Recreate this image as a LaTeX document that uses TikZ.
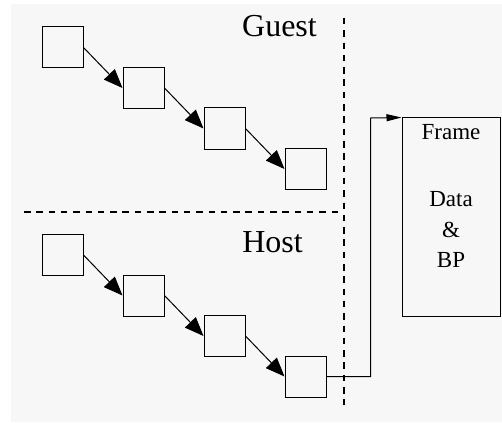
\documentclass[tikz,border=0pt]{standalone}
\usepackage{fontspec}
\setmainfont{Liberation Serif}
\usetikzlibrary{positioning}
\usetikzlibrary{arrows.meta}
\definecolor{paper}{HTML}{F7F7F7}

\begin{document}
\begin{tikzpicture}[x=1pt,y=-1pt,node distance=40.5pt and 81pt,on grid,
    block/.style={draw,line width=1pt,minimum size=41pt,inner sep=0pt},
    link/.style={line width=1pt,-{Triangle[length=19pt,width=15pt]}},
    split/.style={line width=1.6pt,dash pattern=on 6.5pt off 5.8pt}]

  \useasboundingbox (0,0) rectangle (502,422);
  \fill[paper] (11,4) rectangle (502,422);

  \node[block]          (g1) at (62.5,47.5)        {};
  \node[block]          (g2) [below right=of g1]   {};
  \node[block]          (g3) [below right=of g2]   {};
  \node[block]          (g4) [below right=of g3]   {};

  \node[block]          (h1) [below=207.5pt of g1] {};
  \node[block]          (h2) [below right=of h1]   {};
  \node[block]          (h3) [below right=of h2]   {};
  \node[block]          (h4) [below right=of h3]   {};

  \node[anchor=base,font=\fontsize{32}{38}\selectfont] (guest) at (279.5,37)  {Guest};
  \node[anchor=base,font=\fontsize{32}{38}\selectfont] (host)  at (272.5,252) {Host};

  \node[draw,line width=1pt,minimum width=98pt,minimum height=198pt] (frame) at (451,217) {};
  \node[anchor=north,align=center,inner sep=0pt,font=\fontsize{23}{30.5}\selectfont]
        (frametext) at ([yshift=-7pt]frame.north) {Frame\\[36.5pt]Data\\\&\\BP};

  \coordinate (sepw) at (24,212);
  \coordinate (sepe) at (343.7,212);
  \coordinate (sepn) at (343.7,18);
  \coordinate (seps) at (343.7,405);
  \coordinate (bend) at (370.7,118);

  \draw[split] (sepw) -- (sepe);
  \draw[split] (sepn) -- (seps);

  \path[link] (g1.east) edge (g2.west)
              (g2.east) edge (g3.west)
              (g3.east) edge (g4.west)
              (h1.east) edge (h2.west)
              (h2.east) edge (h3.west)
              (h3.east) edge (h4.west);

  \draw[line width=1pt,-{Triangle[length=15pt,width=7pt]}] (h4.east) -| (bend) -- (frame.north west);
\end{tikzpicture}
\end{document}
